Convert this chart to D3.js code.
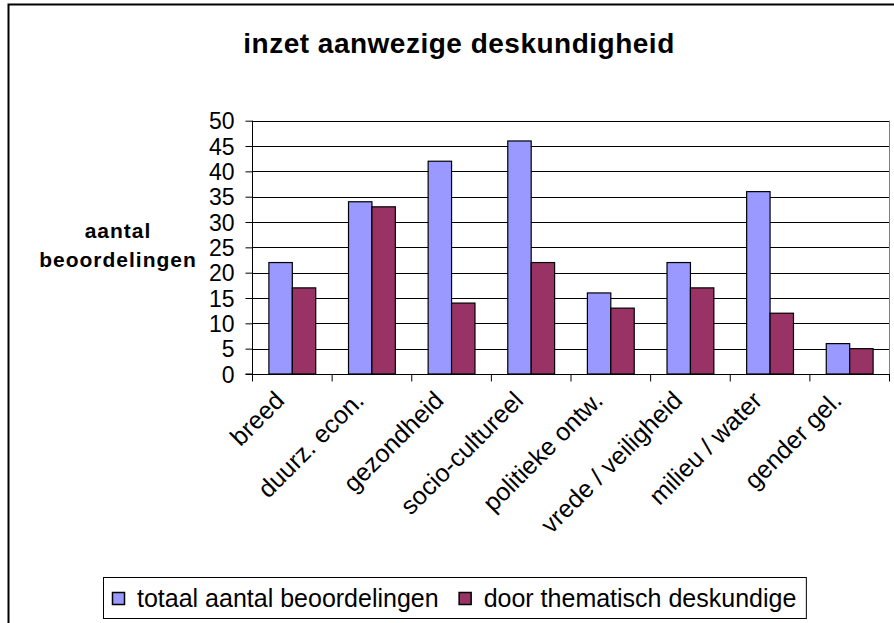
<!DOCTYPE html>
<html>
<head>
<meta charset="utf-8">
<script src="https://cdn.jsdelivr.net/npm/d3@7"></script>
<style>
  html, body { margin: 0; padding: 0; background: #ffffff; }
  svg { display: block; font-family: "Liberation Sans", Arial, sans-serif; }
</style>
</head>
<body>
<svg id="chart" width="894" height="623"></svg>
<script>
const categories = ["breed", "duurz. econ.", "gezondheid", "socio-cultureel", "politieke ontw.", "vrede / veiligheid", "milieu / water", "gender gel."];
const totaalValues = [22, 34, 42, 46, 16, 22, 36, 6];
const thematischValues = [17, 33, 14, 22, 13, 17, 12, 5];
const seriesNames = ["totaal aantal beoordelingen", "door thematisch deskundige"];
const seriesColors = ["#9999FF", "#993366"];
const yTicks = [0, 5, 10, 15, 20, 25, 30, 35, 40, 45, 50];
const titleText = "inzet aanwezige deskundigheid";
const yLabelLines = ["aantal", "beoordelingen"];

const svg = d3.select("#chart");

// outer chart frame
svg.append("rect")
  .attr("x", 8.5).attr("y", 4.5)
  .attr("width", 1000).attr("height", 1000)
  .attr("fill", "#fff").attr("stroke", "#000").attr("stroke-width", 2);

const plot = { left: 252, right: 889, top: 120.7, bottom: 374 };

const x0 = d3.scaleBand().domain(categories).range([plot.left, plot.right]).paddingInner(0).paddingOuter(0);
const x1 = d3.scaleBand().domain([0, 1]).range([0, x0.bandwidth()]).paddingInner(0).paddingOuter(0.7);
const y = d3.scaleLinear().domain([0, 50]).range([plot.bottom, plot.top]);

// gridlines
svg.append("g").selectAll("line").data(yTicks).join("line")
  .attr("x1", plot.left).attr("x2", plot.right)
  .attr("y1", d => Math.round(y(d)) + 0.5).attr("y2", d => Math.round(y(d)) + 0.5)
  .attr("stroke", "#000").attr("stroke-width", 1);

// right border of plot area
svg.append("line")
  .attr("x1", plot.right + 0.5).attr("x2", plot.right + 0.5)
  .attr("y1", y(50)).attr("y2", plot.bottom)
  .attr("stroke", "#808080").attr("stroke-width", 1);

// bars
const seriesData = [totaalValues, thematischValues];
const groups = svg.append("g").selectAll("g").data(categories).join("g")
  .attr("transform", d => `translate(${x0(d)},0)`);
groups.selectAll("rect").data((d, i) => seriesData.map((s, si) => ({ si, v: s[i] }))).join("rect")
  .attr("x", d => x1(d.si) + 0.5)
  .attr("width", x1.bandwidth())
  .attr("y", d => y(d.v))
  .attr("height", d => y(0) - y(d.v))
  .attr("fill", d => seriesColors[d.si])
  .attr("stroke", "#000").attr("stroke-width", 1.2);

// y axis
const yAxis = d3.axisLeft(y).tickValues(yTicks).tickSize(7).tickPadding(11).tickFormat(d3.format("d"));
const gy = svg.append("g").attr("transform", `translate(${plot.left + 0.5},0)`).call(yAxis);
gy.select(".domain").attr("stroke", "#000").attr("d", `M-7,${y(0)}H0V${y(50)}`);
gy.selectAll(".tick line").attr("stroke", "#000");
gy.selectAll(".tick text").attr("font-size", 23).attr("fill", "#000")
  .attr("font-family", "Liberation Sans, Arial, sans-serif").attr("dy", "0.36em");

// x axis
const boundaries = categories.map(c => x0(c)).concat([plot.right]);
const xTickScale = d3.scaleLinear().domain([plot.left, plot.right]).range([plot.left, plot.right]);
const xAxis = d3.axisBottom(xTickScale).tickValues(boundaries).tickSize(7).tickFormat("");
const gx = svg.append("g").attr("transform", `translate(0,${Math.round(plot.bottom) + 0.5})`).call(xAxis);
gx.select(".domain").attr("stroke", "#000").attr("d", `M${plot.left},0H${plot.right + 1}`);
gx.selectAll(".tick line").attr("stroke", "#000");

// x labels rotated
svg.append("g").selectAll("text").data(categories).join("text")
  .attr("transform", d => `translate(${x0(d) + x0.bandwidth() / 2 - 6},${plot.bottom + 28}) rotate(-45)`)
  .attr("text-anchor", "end")
  .attr("font-size", 25)
  .attr("fill", "#000")
  .text(d => d);

// title
svg.append("text")
  .attr("x", 459).attr("y", 53)
  .attr("text-anchor", "middle")
  .attr("font-size", 28).attr("font-weight", "bold")
  .attr("letter-spacing", 0.5)
  .attr("fill", "#000")
  .text(titleText);

// y-axis label
svg.append("text")
  .attr("text-anchor", "middle")
  .attr("font-size", 21).attr("font-weight", "bold")
  .attr("letter-spacing", 1)
  .attr("fill", "#000")
  .selectAll("tspan").data(yLabelLines).join("tspan")
  .attr("x", 118).attr("y", (d, i) => 238 + i * 29)
  .text(d => d);

// legend
const legend = svg.append("g");
const legendBox = legend.append("rect")
  .attr("x", 103.5).attr("y", 577.5).attr("height", 41)
  .attr("fill", "#fff").attr("stroke", "#000").attr("stroke-width", 1);
let lx = 112;
seriesNames.forEach((name, i) => {
  legend.append("rect")
    .attr("x", lx + 0.5).attr("y", 592.5).attr("width", 12).attr("height", 12)
    .attr("fill", seriesColors[i]).attr("stroke", "#000").attr("stroke-width", 1.5);
  const t = legend.append("text")
    .attr("x", lx + 25).attr("y", 607)
    .attr("font-size", 25).attr("fill", "#000")
    .text(name);
  lx += 25 + t.node().getComputedTextLength() + 20;
});
legendBox.attr("width", lx - 103.5 - 10);
</script>
</body>
</html>
